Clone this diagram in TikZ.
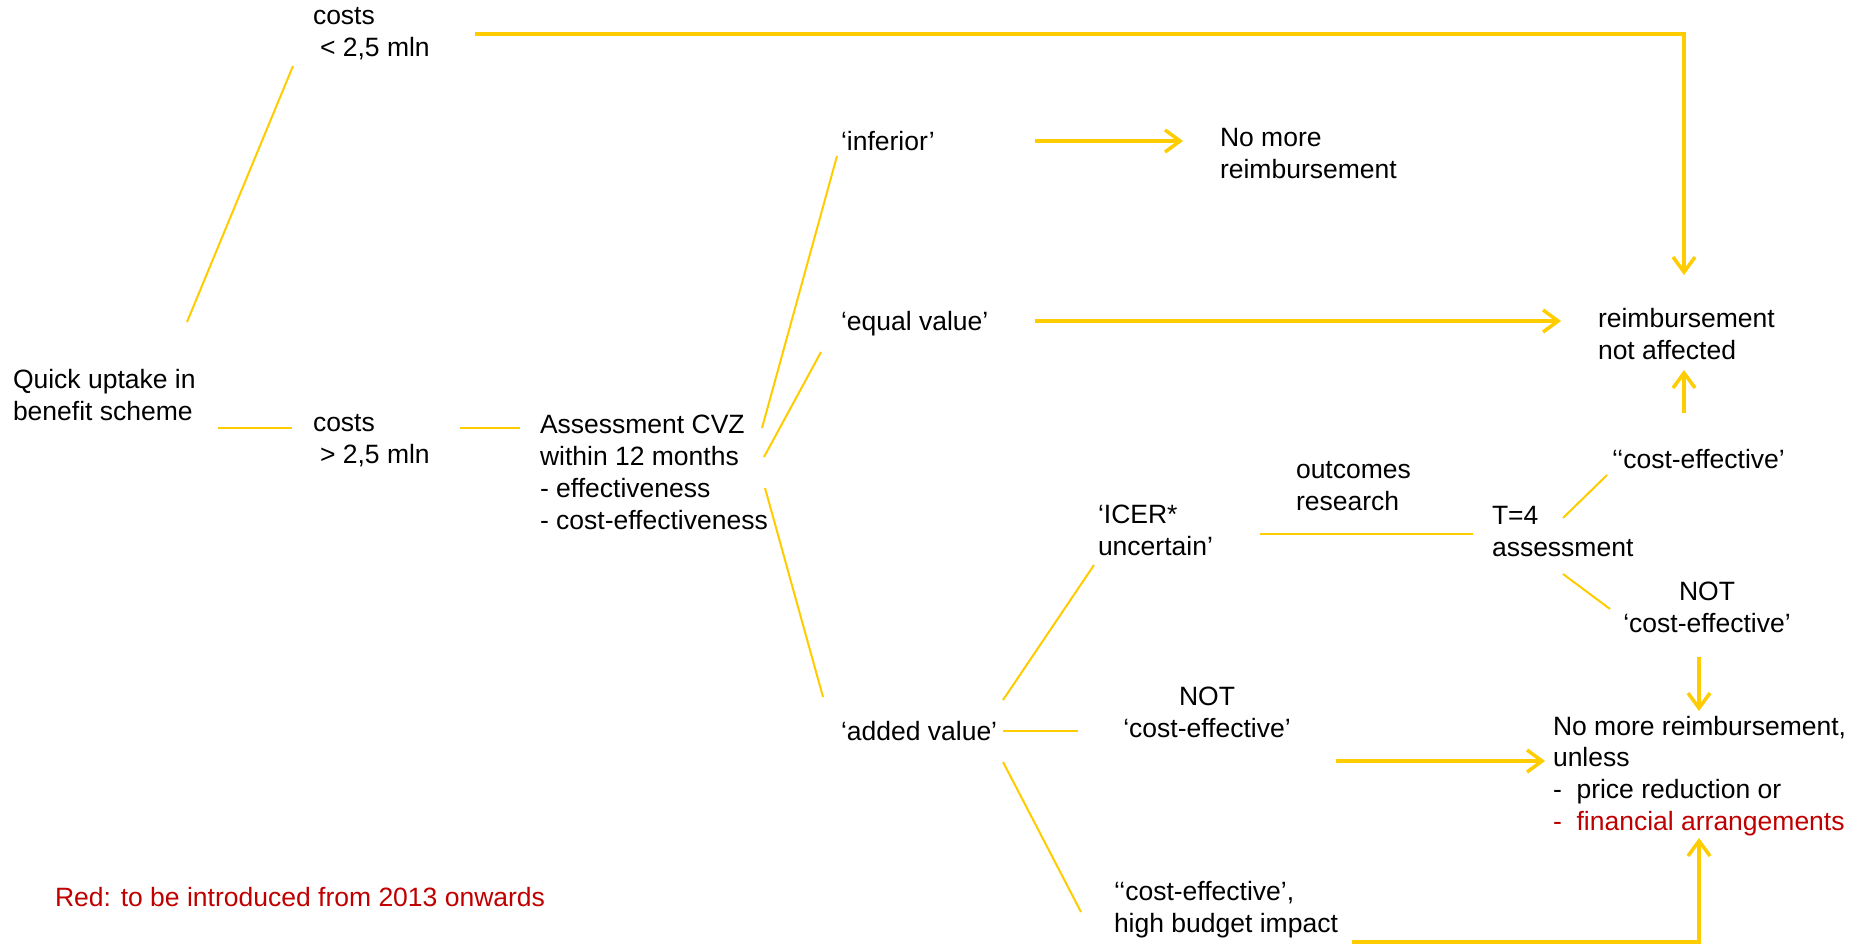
\documentclass[tikz,border=0pt]{standalone}
\usepackage{fontspec}
\setmainfont{Liberation Sans}
\usetikzlibrary{arrows.meta,calc}
\definecolor{yel}{RGB}{255,204,0}
\definecolor{redtxt}{RGB}{192,0,0}
\newcommand{\myfs}{\fontsize{26.5}{31.8}\selectfont}
\newcommand{\mystrut}{\rule[-1.5pt]{0pt}{27.3pt}}
\begin{document}
\begin{tikzpicture}[x=1pt,y=-1pt,
  txt/.style={font=\myfs,align=left,anchor=west,inner sep=0pt,outer sep=0pt,
    execute at begin node=\mystrut,execute at end node=\mystrut},
  ctxt/.style={txt,align=center,anchor=center},
  thinline/.style={draw=yel,line width=2pt},
  shortline/.style={draw=yel,line width=2.6pt},
  arr/.style={draw=yel,line width=3.5pt,-{Straight Barb[length=15pt,width=22pt]}}]
\useasboundingbox (0,0) rectangle (1852,945);
\fill[white] (0,0) rectangle (1852,945);

% nodes
\node[txt] (cl) at (313,34) {costs\\\hspace*{7pt}< 2,5 mln};
\node[txt] (quick) at (13,396) {Quick uptake in\\benefit scheme};
\node[txt] (cg) at (313,441) {costs\\\hspace*{7pt}> 2,5 mln};
\node[txt] (assess) at (540,473) {Assessment CVZ\\within 12 months\\- effectiveness\\- cost-effectiveness};
\node[txt] (inferior) at (841,138) {‘inferior’};
\node[txt] (nomore1) at (1220,154) {No more\\reimbursement};
\node[txt] (equal) at (841,320) {‘equal value’};
\node[txt] (reimb) at (1598,335) {reimbursement\\not affected};
\node[txt] (outcomes) at (1296,487) {outcomes\\research};
\node[txt] (icer) at (1098,531) {‘ICER*\\uncertain’};
\node[txt] (t4) at (1492,532) {T=4\\assessment};
\node[txt] (ce1) at (1612,456) {‘‘cost-effective’};
\node[ctxt] (notce1) at (1707,608) {NOT\\‘cost-effective’};
\node[txt] (added) at (841,728) {‘added value’};
\node[ctxt] (notce2) at (1207,713) {NOT\\‘cost-effective’};
\node[txt] (nomore2) at (1553,776) {No more reimbursement,\\unless\\-\ \ price reduction or\\\textcolor{redtxt}{-\ \ financial arrangements}};
\node[txt] (highb) at (1114,910) {‘‘cost-effective’,\\high budget impact};
\node[txt,text=redtxt] (note) at (55,894) {Red: to be introduced from 2013 onwards};

% connectors
\draw[arr] ($(cl.west)+(162,0)$) -| ($(reimb.west)+(86,-60)$);
\draw[thinline] ($(quick.west)+(174,-74)$) -- ($(cl.west)+(-20,32)$);
\draw[shortline] ($(quick.west)+(205,32)$) -- ($(cg.west)+(-21,-13)$);
\draw[shortline] ($(cg.west)+(147,-13)$) -- ($(assess.west)+(-20,-45)$);
\draw[thinline] ($(assess.west)+(222,-45)$) -- ($(inferior.west)+(-4,18)$);
\draw[thinline] ($(assess.west)+(224,-16)$) -- ($(equal.west)+(-20,32)$);
\draw[thinline] ($(assess.west)+(225,15)$) -- ($(added.west)+(-18,-31)$);
\draw[arr] ($(inferior.west)+(194,3)$) -- ($(nomore1.west)+(-37,-13)$);
\draw[arr] ($(equal.west)+(194,1)$) -- ($(reimb.west)+(-37,-14)$);
\draw[arr] ($(ce1.west)+(72,-43)$) -- ($(reimb.west)+(86,35)$);
\draw[thinline] ($(t4.west)+(71,-14)$) -- ($(ce1.west)+(-5,19)$);
\draw[thinline] ($(t4.west)+(71,42)$) -- ($(notce1.center)+(-97,1)$);
\draw[arr] ($(notce1.center)+(-8,49)$) -- ($(nomore2.west)+(146,-65)$);
\draw[thinline] ($(icer.west)+(162,3)$) -- ($(t4.west)+(-19,2)$);
\draw[thinline] ($(added.west)+(162,-28)$) -- ($(icer.west)+(-4,34)$);
\draw[shortline] ($(added.west)+(162,3)$) -- ($(notce2.center)+(-129,18)$);
\draw[thinline] ($(added.west)+(162,34)$) -- ($(highb.west)+(-33,2)$);
\draw[arr] ($(notce2.center)+(129,48)$) -- ($(nomore2.west)+(-8,-15)$);
\draw[arr] ($(highb.west)+(238,32)$) -| ($(nomore2.west)+(146,62)$);
\end{tikzpicture}
\end{document}
